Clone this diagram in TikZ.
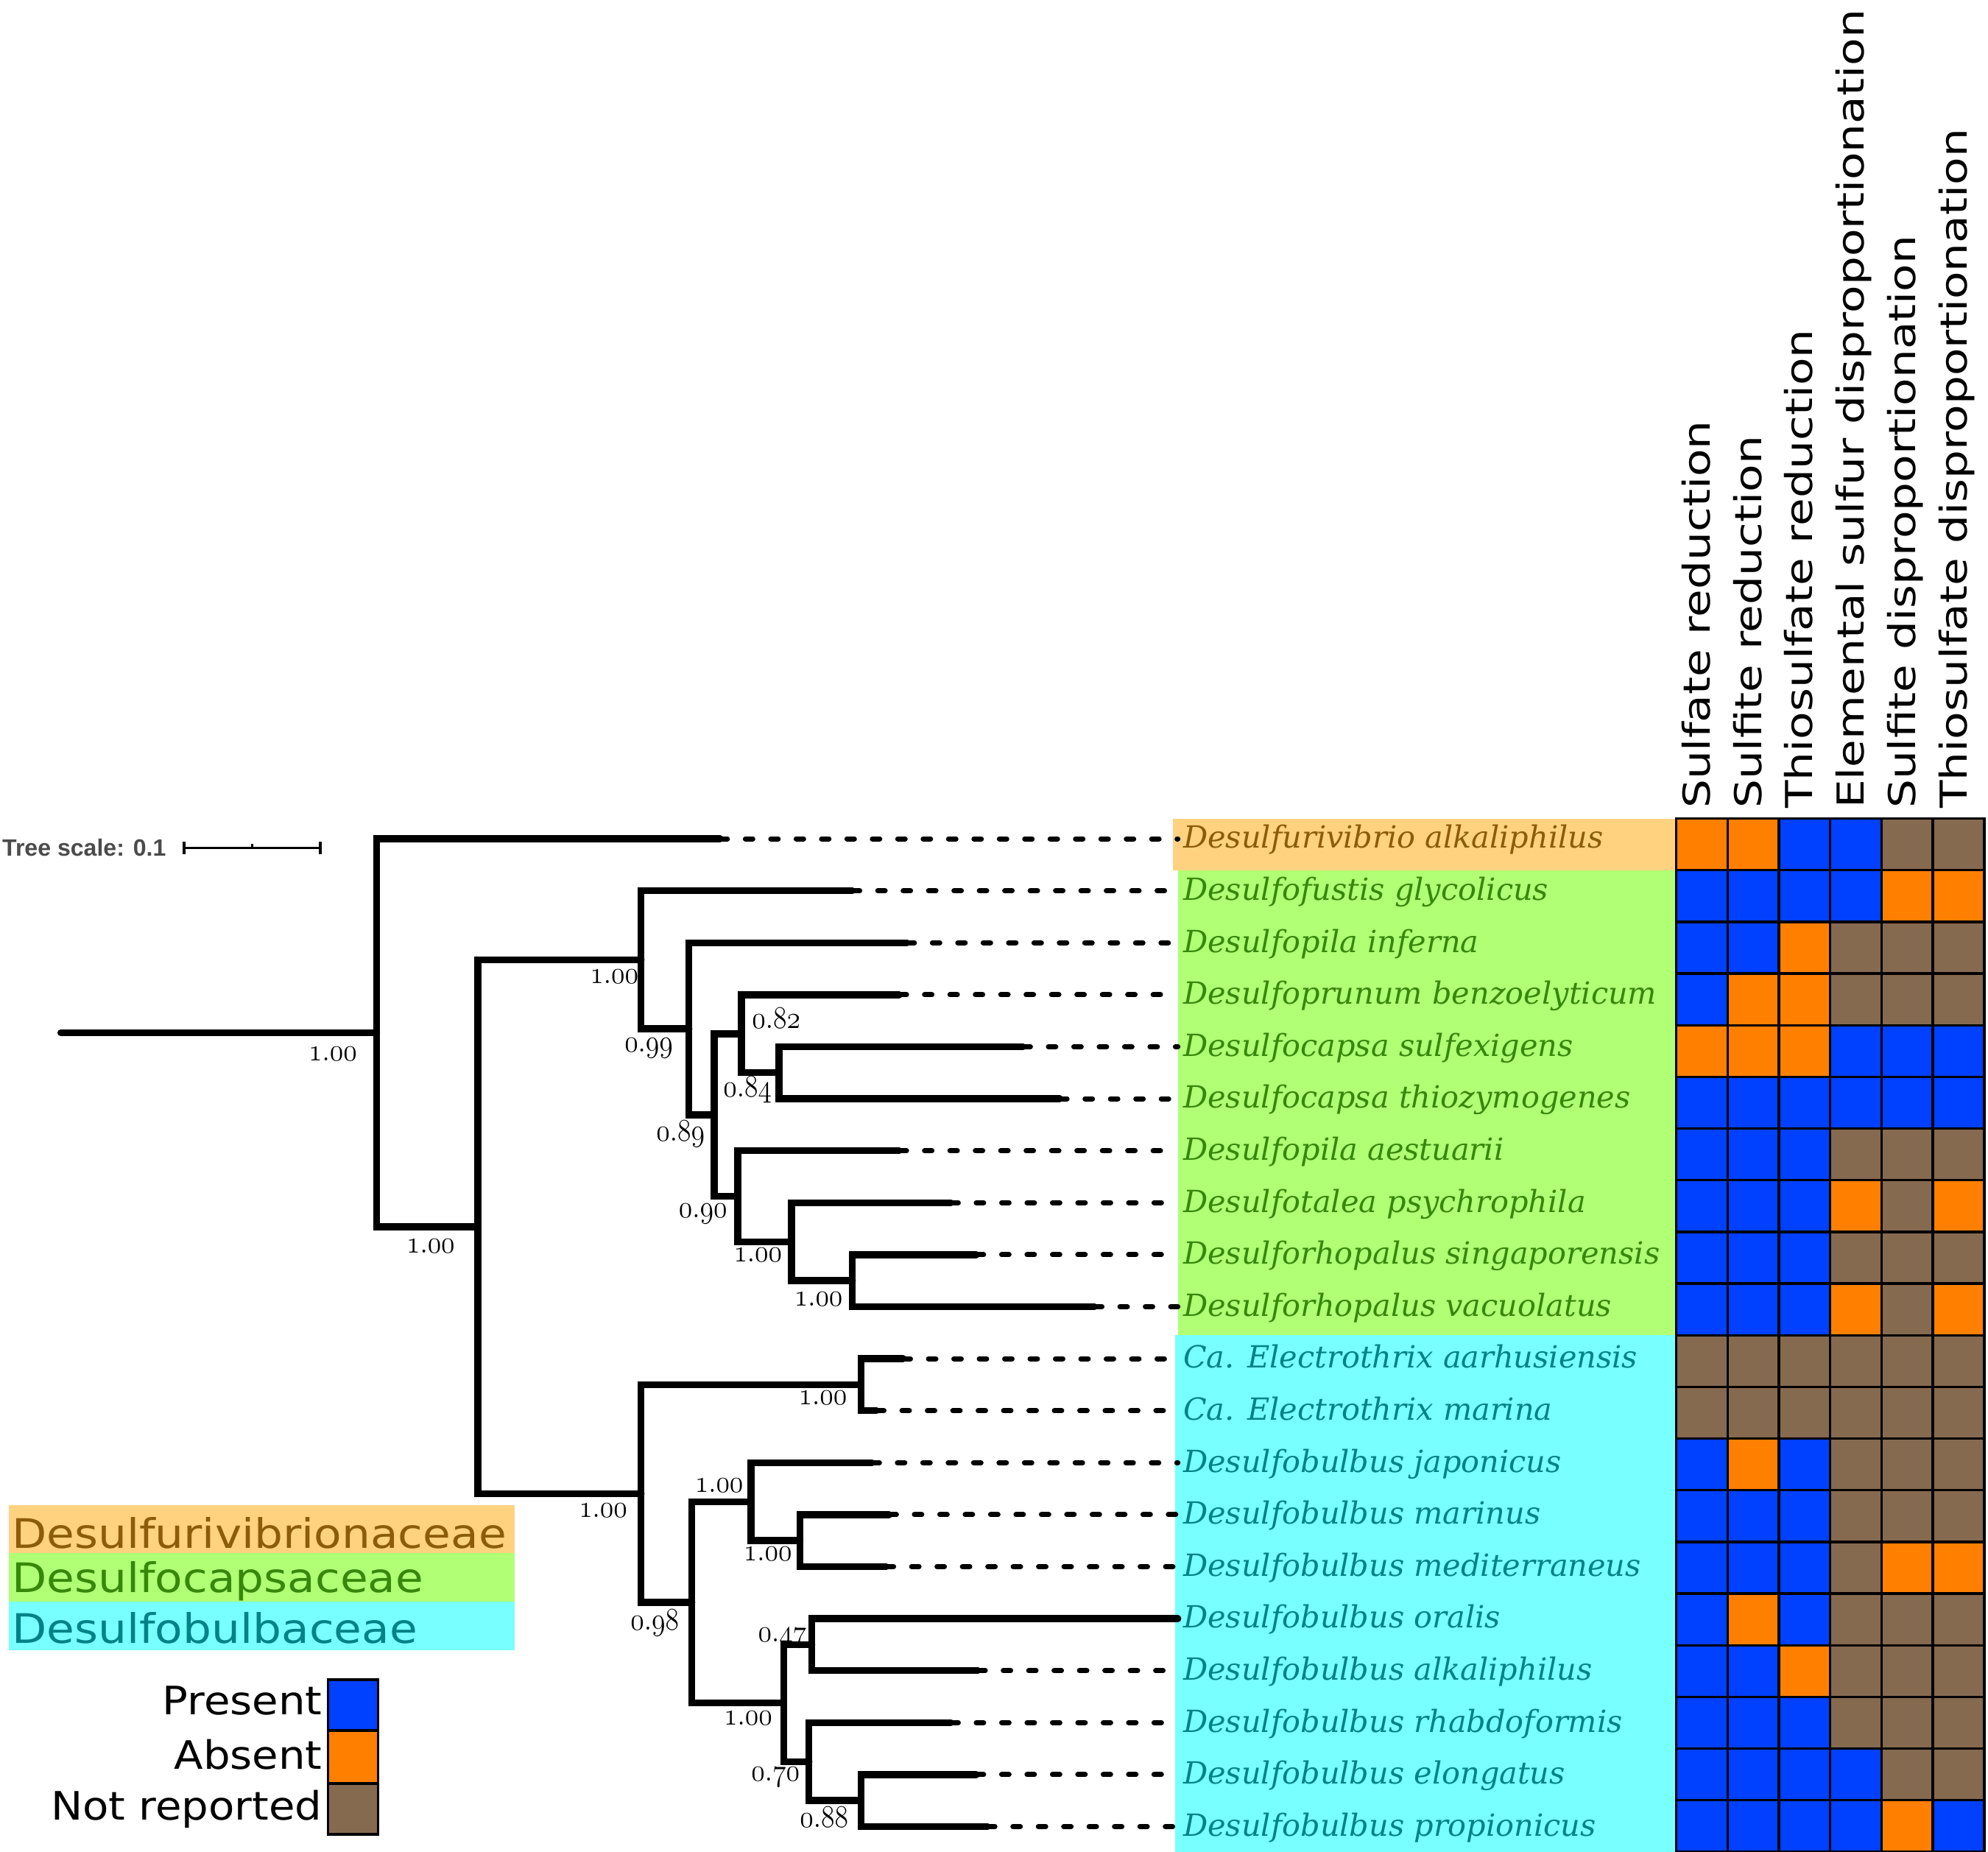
\documentclass[tikz,border=0pt]{standalone}
\usepackage{fontspec}
\usepackage{graphicx}
\newfontfamily\taxfont{DejaVu Serif}
\newfontfamily\hdrfont{DejaVu Sans}
\newfontfamily\tsfont{Liberation Sans}
\definecolor{cB}{RGB}{0,64,255}
\definecolor{cO}{RGB}{255,128,0}
\definecolor{cN}{RGB}{134,106,80}
\definecolor{bgO}{RGB}{255,210,128}
\definecolor{bgG}{RGB}{176,255,117}
\definecolor{bgC}{RGB}{120,255,255}
\definecolor{tO}{RGB}{140,92,10}
\definecolor{tG}{RGB}{55,135,10}
\definecolor{tC}{RGB}{0,130,135}
\definecolor{tsgray}{RGB}{75,75,75}
\newcommand{\bootnum}[2]{\scalebox{1.04}[1.18]{\fontsize{12}{12}\usefont{OML}{cmm}{m}{it}#1\char58 #2}}
\begin{document}
\begin{tikzpicture}[x=0.02cm,y=-0.02cm,
 branch/.style={line width=3.1pt,line cap=round,line join=miter},
 dashl/.style={line width=2.3pt,line cap=round,dash pattern=on 3.3pt off 8.1pt},
 taxon/.style={anchor=base west,inner xsep=2.28pt,inner ysep=0pt,font=\taxfont\itshape\fontsize{13.7}{15}\selectfont},
 bsv/.style={inner sep=0pt},
 cell/.style={draw=black,line width=1.1pt},
 hdr/.style={rotate=90,anchor=base west,inner sep=0pt,font=\hdrfont\fontsize{20.3}{22}\selectfont},
 fam/.style={anchor=base west,inner sep=0pt,font=\hdrfont\fontsize{20.3}{22}\selectfont},
 cleg/.style={anchor=base east,inner sep=0pt,font=\hdrfont\fontsize{19.1}{21}\selectfont},
 sbar/.style={line width=1.1pt}]
\useasboundingbox (0,0) rectangle (1568,1460.5);

% label backgrounds
\fill[bgO] (925,645.5) rectangle (1322,686.25);
\fill[bgG] (929,686.25) rectangle (1322,1053);
\fill[bgC] (927,1053) rectangle (1322,1460.5);

% taxon labels
\node[taxon,text=tO] (n1) at (929,669) {Desulfurivibrio alkaliphilus};
\node[taxon,text=tG] (n2) at (929,710) {Desulfofustis glycolicus};
\node[taxon,text=tG] (n3) at (929,751) {Desulfopila inferna};
\node[taxon,text=tG] (n4) at (929,792) {Desulfoprunum benzoelyticum};
\node[taxon,text=tG] (n5) at (929,833) {Desulfocapsa sulfexigens};
\node[taxon,text=tG] (n6) at (929,874) {Desulfocapsa thiozymogenes};
\node[taxon,text=tG] (n7) at (929,915) {Desulfopila aestuarii};
\node[taxon,text=tG] (n8) at (929,956) {Desulfotalea psychrophila};
\node[taxon,text=tG] (n9) at (929,997) {Desulforhopalus singaporensis};
\node[taxon,text=tG] (n10) at (929,1038) {Desulforhopalus vacuolatus};
\node[taxon,text=tC] (n11) at (929,1079) {Ca. Electrothrix aarhusiensis};
\node[taxon,text=tC] (n12) at (929,1120) {Ca. Electrothrix marina};
\node[taxon,text=tC] (n13) at (929,1161) {Desulfobulbus japonicus};
\node[taxon,text=tC] (n14) at (929,1202) {Desulfobulbus marinus};
\node[taxon,text=tC] (n15) at (929,1243) {Desulfobulbus mediterraneus};
\node[taxon,text=tC] (n16) at (929,1284) {Desulfobulbus oralis};
\node[taxon,text=tC] (n17) at (929,1325) {Desulfobulbus alkaliphilus};
\node[taxon,text=tC] (n18) at (929,1366) {Desulfobulbus rhabdoformis};
\node[taxon,text=tC] (n19) at (929,1407) {Desulfobulbus elongatus};
\node[taxon,text=tC] (n20) at (929,1448) {Desulfobulbus propionicus};

% tree coordinates
\coordinate (root) at (48,814.45);
\coordinate (A) at (297,814.45);
\coordinate (B) at (377,967.4);
\coordinate (C) at (505.7,756.9);
\coordinate (D) at (543.4,811.4);
\coordinate (E) at (563.4,879.3);
\coordinate (F) at (584.8,815.25);
\coordinate (G) at (614.5,846);
\coordinate (H) at (582,943.4);
\coordinate (I) at (624.3,979.25);
\coordinate (J) at (672.3,1010);
\coordinate (K) at (505.7,1177.85);
\coordinate (L) at (679,1092);
\coordinate (M) at (545.7,1263.7);
\coordinate (N) at (592.3,1184.25);
\coordinate (O) at (631,1215);
\coordinate (P) at (618.1,1343.1);
\coordinate (Q) at (640.3,1297);
\coordinate (R) at (638.1,1389.25);
\coordinate (S) at (679,1420);

\coordinate (t1) at (567.9,661.5);
\coordinate (t2) at (672.3,702.5);
\coordinate (t3) at (715.4,743.5);
\coordinate (t4) at (709.2,784.5);
\coordinate (t5) at (806.9,825.5);
\coordinate (t6) at (835.8,866.5);
\coordinate (t7) at (709.2,907.5);
\coordinate (t8) at (750,948.5);
\coordinate (t9) at (770,989.5);
\coordinate (t10) at (863.3,1030.5);
\coordinate (t11) at (712.3,1071.5);
\coordinate (t12) at (691.4,1112.5);
\coordinate (t13) at (687.8,1153.5);
\coordinate (t14) at (701.2,1194.5);
\coordinate (t15) at (699,1235.5);
\coordinate (t16) at (929,1276.5);
\coordinate (t17) at (771.3,1317.5);
\coordinate (t18) at (750,1358.5);
\coordinate (t19) at (770,1399.5);
\coordinate (t20) at (778.9,1440.5);

% dashed leader lines
\foreach \i in {1,...,15,17,18,19,20}{
  \draw[dashl] (t\i) -- (t\i -| n\i.west);
}

% branches
\draw[branch] (root) -- (A);
\draw[branch] (t1) -| (A) |- (B);
\draw[branch] (C) -| (B) |- (K);
\draw[branch] (t2) -| (C) |- (D);
\draw[branch] (t3) -| (D) |- (E);
\draw[branch] (F) -| (E) |- (H);
\draw[branch] (t4) -| (F) |- (G);
\draw[branch] (t5) -| (G) |- (t6);
\draw[branch] (t7) -| (H) |- (I);
\draw[branch] (t8) -| (I) |- (J);
\draw[branch] (t9) -| (J) |- (t10);
\draw[branch] (L) -| (K) |- (M);
\draw[branch] (t11) -| (L) |- (t12);
\draw[branch] (N) -| (M) |- (P);
\draw[branch] (t13) -| (N) |- (O);
\draw[branch] (t14) -| (O) |- (t15);
\draw[branch] (Q) -| (P) |- (R);
\draw[branch] (t16) -| (Q) |- (t17);
\draw[branch] (t18) -| (R) |- (S);
\draw[branch] (t19) -| (S) |- (t20);

% support values
\node[bsv] (bA) at (262.5,831) {\bootnum{1}{00}};
\node[bsv] (bB) at (339.7,983) {\bootnum{1}{00}};
\node[bsv] (bC) at (484.5,770) {\bootnum{1}{00}};
\node[bsv] (bD) at (511.7,826.7) {\bootnum{0}{99}};
\node[bsv] (bE) at (536.8,894.3) {\bootnum{0}{89}};
\node[bsv] (bF) at (612.3,802.7) {\bootnum{0}{82}};
\node[bsv] (bG) at (589.6,859.7) {\bootnum{0}{84}};
\node[bsv] (bH) at (554.5,957.6) {\bootnum{0}{90}};
\node[bsv] (bI) at (597.8,990) {\bootnum{1}{00}};
\node[bsv] (bJ) at (645.6,1024.3) {\bootnum{1}{00}};
\node[bsv] (bK) at (475.7,1191.3) {\bootnum{1}{00}};
\node[bsv] (bL) at (649,1102.5) {\bootnum{1}{00}};
\node[bsv] (bM) at (516.4,1279.8) {\bootnum{0}{98}};
\node[bsv] (bN) at (567.2,1171.7) {\bootnum{1}{00}};
\node[bsv] (bO) at (605.6,1225.3) {\bootnum{1}{00}};
\node[bsv] (bP) at (590,1355.3) {\bootnum{1}{00}};
\node[bsv] (bQ) at (617,1291.8) {\bootnum{0}{47}};
\node[bsv] (bR) at (611.7,1401.6) {\bootnum{0}{70}};
\node[bsv] (bS) at (650,1433) {\bootnum{0}{88}};

% trait matrix
\foreach \rowvals [count=\i] in {{O,O,B,B,N,N},{B,B,B,B,O,O},{B,B,O,N,N,N},{B,O,O,N,N,N},{O,O,O,B,B,B},{B,B,B,B,B,B},{B,B,B,N,N,N},{B,B,B,O,N,O},{B,B,B,N,N,N},{B,B,B,O,N,O},{N,N,N,N,N,N},{N,N,N,N,N,N},{B,O,B,N,N,N},{B,B,B,N,N,N},{B,B,B,N,O,O},{B,O,B,N,N,N},{B,B,O,N,N,N},{B,B,B,N,N,N},{B,B,B,B,N,N},{B,B,B,B,O,B}}{
  \foreach \v [count=\k] in \rowvals {
    \draw[cell,fill=c\v] ({1322+40.5*(\k-1)},{645.5+40.75*(\i-1)}) rectangle ++(40.5,40.75);
  }
}

% column headers
\node[hdr] (h1) at (1348.75,638) {\scalebox{1}[0.82]{Sulfate reduction}};
\node[hdr] (h2) at (1389.25,638) {\scalebox{1}[0.82]{Sulfite reduction}};
\node[hdr] (h3) at (1429.75,638) {\scalebox{1}[0.82]{Thiosulfate reduction}};
\node[hdr] (h4) at (1470.25,638) {\scalebox{1}[0.82]{Elemental sulfur disproportionation}};
\node[hdr] (h5) at (1510.75,638) {\scalebox{1}[0.82]{Sulfite disproportionation}};
\node[hdr] (h6) at (1551.25,638) {\scalebox{1}[0.82]{Thiosulfate disproportionation}};

% tree scale
\node[anchor=base west,inner sep=0pt,font=\tsfont\bfseries\fontsize{10.6}{12}\selectfont,text=tsgray] (ts) at (1.5,675.2) {Tree scale: 0.1};
\coordinate (sbL) at (145.2,668.8);
\coordinate (sbR) at (252.7,668.8);
\draw[sbar] (sbL) -- (sbR);
\draw[sbar] (145.2,664) -- (145.2,673.6);
\draw[sbar] (252.7,664) -- (252.7,673.6);
\draw[sbar] (199,665.5) -- (199,668.8);

% family legend
\fill[bgO] (7,1187) rectangle (406,1225);
\fill[bgG] (7,1225) rectangle (406,1263);
\fill[bgC] (7,1263) rectangle (406,1301.5);
\node[fam,text=tO] (f1) at (9,1220.8) {\scalebox{1}[0.9]{Desulfurivibrionaceae}};
\node[fam,text=tG] (f2) at (9,1256.1) {\scalebox{1}[0.9]{Desulfocapsaceae}};
\node[fam,text=tC] (f3) at (9,1296.1) {\scalebox{1}[0.9]{Desulfobulbaceae}};

% colour legend
\node[cleg] (lp) at (254.5,1352) {\scalebox{1}[0.92]{Present}};
\node[cleg] (la) at (254.5,1395) {\scalebox{1}[0.92]{Absent}};
\node[cleg] (ln) at (254.5,1435) {\scalebox{1}[0.92]{Not reported}};
\draw[cell,fill=cB] (258.8,1324.7) rectangle (298.3,1364.7);
\draw[cell,fill=cO] (258.8,1364.7) rectangle (298.3,1406.6);
\draw[cell,fill=cN] (258.8,1406.6) rectangle (298.3,1446.6);
\end{tikzpicture}
\end{document}
